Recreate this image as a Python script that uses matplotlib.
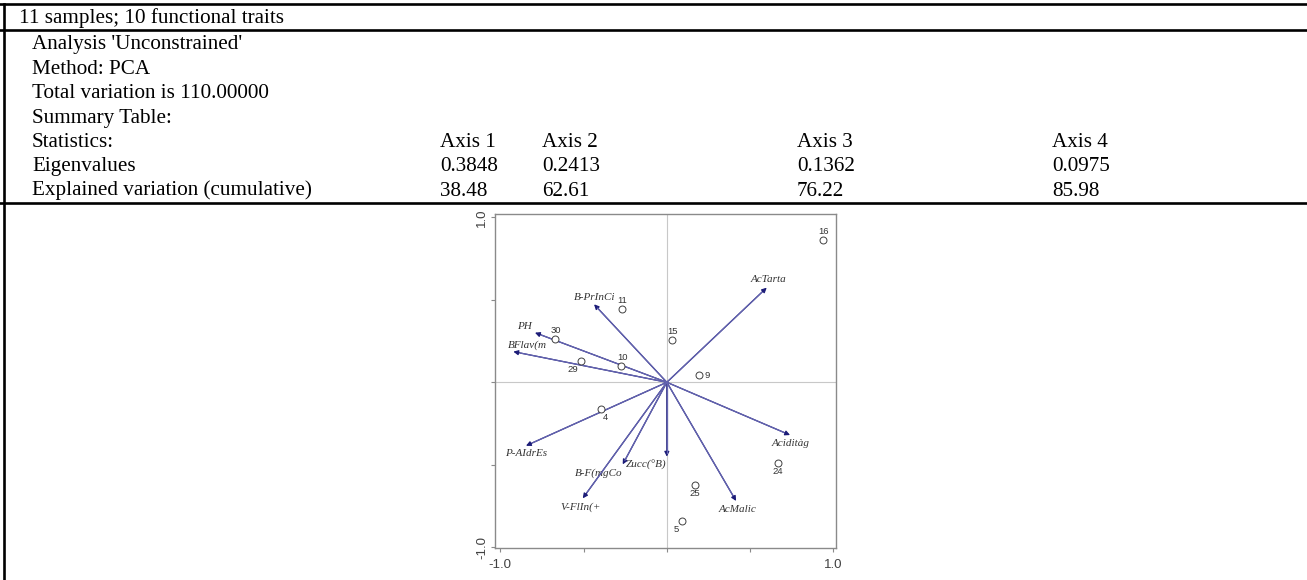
import matplotlib
matplotlib.use("Agg")
import matplotlib.pyplot as plt
from matplotlib.lines import Line2D

# summary table
header = "11 samples; 10 functional traits"
info_rows = ["Analysis 'Unconstrained'", "Method: PCA", "Total variation is 110.00000", "Summary Table:"]
axis_names = ["Axis 1", "Axis 2", "Axis 3", "Axis 4"]
eigenvalues = ["0.3848", "0.2413", "0.1362", "0.0975"]
cumulative = ["38.48", "62.61", "76.22", "85.98"]

# sample scores (axis 1, axis 2)
sample_ids = ["16", "11", "15", "30", "29", "10", "9", "4", "24", "25", "5"]
sample_x = [0.940, -0.269, 0.033, -0.673, -0.514, -0.277, 0.193, -0.395, 0.668, 0.168, 0.093]
sample_y = [0.863, 0.443, 0.258, 0.265, 0.129, 0.099, 0.044, -0.164, -0.488, -0.623, -0.840]

# trait loadings (axis 1, axis 2)
traits = ["AcTarta", "B-PrInCi", "PH", "BFlav(m", "P-AIdrEs", "Zucc(°B)", "B-F(mgCo", "V-FlIn(+", "AcMalic", "Aciditàg"]
trait_x = [0.600, -0.437, -0.792, -0.922, -0.846, 0.000, -0.265, -0.505, 0.416, 0.740]
trait_y = [0.574, 0.473, 0.301, 0.186, -0.385, -0.451, -0.498, -0.704, -0.720, -0.320]

W, H = 1307, 580
fig = plt.figure(figsize=(W / 100, H / 100), dpi=100)

# background layer in pixel units for the table
bg = fig.add_axes([0, 0, 1, 1])
bg.set_xlim(0, W)
bg.set_ylim(H, 0)
bg.axis("off")

serif = {"family": "Liberation Serif", "size": 15.2, "color": "black"}
bg.text(19, 23.3, header, va="baseline", **serif)
row_y = [49.3, 73.5, 98, 122.5, 146.7, 171, 195.5]
for y, t in zip(row_y, info_rows):
    bg.text(32, y, t, va="baseline", **serif)
bg.text(32, row_y[4], "Statistics:", va="baseline", **serif)
bg.text(32, row_y[5], "Eigenvalues", va="baseline", **serif)
bg.text(32, row_y[6], "Explained variation (cumulative)", va="baseline", **serif)
col_x = [440, 542, 797, 1052]
for cx, a, e, c in zip(col_x, axis_names, eigenvalues, cumulative):
    bg.text(cx, row_y[4], a, va="baseline", **serif)
    bg.text(cx, row_y[5], e, va="baseline", **serif)
    bg.text(cx, row_y[6], c, va="baseline", **serif)

for y in (4, 30, 202.5):
    bg.add_line(Line2D([0, W], [y, y], color="black", lw=1.9))
bg.add_line(Line2D([4, 4], [4, H], color="black", lw=1.9))

# biplot
ax = fig.add_axes([495 / W, 1 - 548.3 / H, (836 - 495) / W, (548.3 - 214.3) / H])
ax.set_xlim(-1.032, 1.016)
ax.set_ylim(-1.007, 1.019)
ax.axhline(0, color="#c8c8c8", lw=0.8, zorder=0)
ax.axvline(0, color="#c8c8c8", lw=0.8, zorder=0)
for s in ax.spines.values():
    s.set_color("#8a8a8a")
    s.set_linewidth(1.0)

ticks = [-1, -0.5, 0, 0.5, 1]
ax.set_xticks(ticks)
ax.set_yticks(ticks)
ax.set_xticklabels(["-1.0", "", "", "", "1.0"])
ax.set_yticklabels(["-1.0", "", "", "", "1.0"], rotation=90, va="center")
ax.tick_params(direction="out", length=3, width=0.8, color="#8a8a8a",
               labelsize=9.5, labelcolor="#404040")
ax.tick_params(axis="x", pad=5)
ax.tick_params(axis="y", pad=2)
for lab in ax.get_xticklabels() + ax.get_yticklabels():
    lab.set_family("Liberation Sans")

# trait arrows: dark head, lighter shaft on top
for tx, ty in zip(trait_x, trait_y):
    ax.annotate("", xy=(tx, ty), xytext=(0, 0),
                arrowprops=dict(arrowstyle="-|>", color="#1c1c78", lw=0.9,
                                mutation_scale=7, shrinkA=0, shrinkB=0))
    ax.plot([0, tx * 0.95], [0, ty * 0.95], color="#6464b0", lw=0.9, zorder=4)

# label offsets in points
trait_off = [(1.5, 6), (0.7, 5.2), (-7.7, 4.8), (10, 4.8), (0, -5.5), (-15, -6.3),
             (-17.5, -6.5), (-1.2, -6.5), (1, -6), (0.7, -6)]
for name, tx, ty, off in zip(traits, trait_x, trait_y, trait_off):
    ax.annotate(name, xy=(tx, ty), xytext=off, textcoords="offset points",
                ha="center", va="center", fontsize=8, style="italic",
                family="Liberation Serif", color="#333333")

ax.plot(sample_x, sample_y, "o", ms=5, mfc="white", mec="#404040", mew=0.7, zorder=5)
sample_off = [(0, 6), (0, 6), (0, 6), (0.7, 6), (-6.2, -6), (1.4, 6),
              (5.8, 0), (3.4, -6), (0, -6), (0, -6), (-4.1, -6)]
for sid, sx, sy, off in zip(sample_ids, sample_x, sample_y, sample_off):
    ax.annotate(sid, xy=(sx, sy), xytext=off, textcoords="offset points",
                ha="center", va="center", fontsize=6.8,
                family="Liberation Sans", color="#333333")

fig.savefig("out.png", dpi=100)
